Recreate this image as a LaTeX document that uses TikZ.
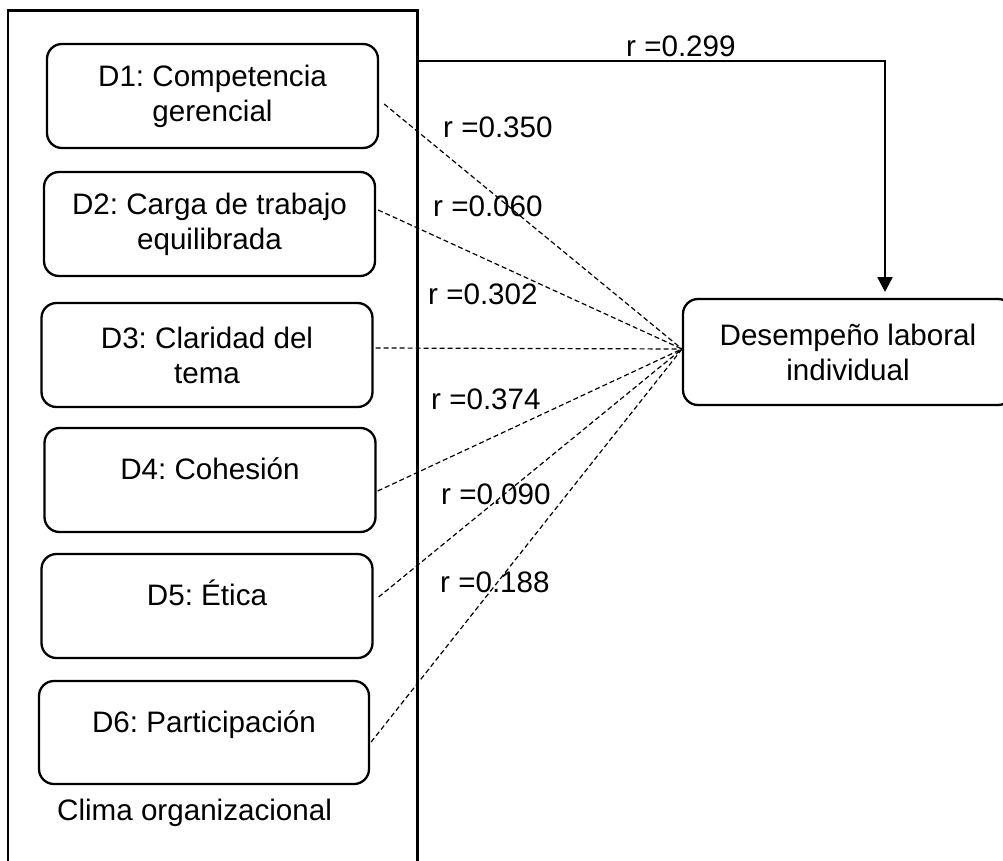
\documentclass[tikz,border=0pt]{standalone}
\usepackage{fontspec}
\setmainfont{Liberation Sans}
\usetikzlibrary{arrows.meta,calc}
\frenchspacing
\begin{document}
\begin{tikzpicture}[x=1pt,y=-1pt,
  dimbox/.style={draw,line width=2.3pt,rounded corners=15pt,minimum width=331pt,minimum height=104pt,inner sep=0pt,align=center,font=\fontsize{29.6}{35}\selectfont\frenchspacing},
  lbl/.style={inner sep=0pt,font=\fontsize{29.6}{35}\selectfont\frenchspacing},
  corr/.style={line width=1.2pt,dash pattern=on 5pt off 3pt},
  frameline/.style={line width=2.5pt}]
\useasboundingbox (0,0) rectangle (1003,861);
\clip (0,0) rectangle (1003,861);
\fill[white] (0,0) rectangle (1003,861);
% outer frame
\draw[frameline] (8,875) -- (8,10.5) -- (417.5,10.5) -- (417.5,875);
% dimension boxes
\node[dimbox] (D1) at (212.5,96) {D1: Competencia\\gerencial};
\node[dimbox] (D2) at (209.5,224) {D2: Carga de trabajo\\equilibrada};
\node[dimbox] (D3) at (207,355) {D3: Claridad del\\tema};
\node[dimbox] (D4) at (210,480) {};
\node[dimbox] (D5) at (207,606) {};
\node[dimbox,minimum width=330pt,minimum height=103pt] (D6) at (204,732.5) {};
\node[lbl,anchor=base] (t4) at (210,479) {D4: Cohesión};
\node[lbl,anchor=base] (t5) at (207,605) {D5: Ética};
\node[lbl,anchor=base] (t6) at (204,732) {D6: Participación};
\node[lbl,anchor=base west] (clima) at (57,820) {Clima organizacional};
% dependent variable
\node[dimbox,minimum width=330pt,minimum height=106pt] (des) at (848,352) {Desempeño laboral\\individual};
% correlations
\coordinate (conv) at (682,349);
\draw[corr] ($(D1.east)+(5,8)$) -- (conv);
\draw[corr] ($(D2.east)+(2,-14)$) -- (conv);
\draw[corr] ($(D3.east)+(2,-7)$) -- (conv);
\draw[corr] ($(D4.east)+(1,11)$) -- (conv);
\draw[corr] ($(D5.east)+(5,-9)$) -- (conv);
\draw[corr] ($(D6.east)+(1,9.5)$) -- (conv);
% global arrow
\coordinate (fr) at (418,61);
\coordinate (aend) at (885,292);
\draw[frameline,-{Triangle[length=15pt,width=15pt]}] (fr) -- (fr -| aend) -- (aend);
% labels
\node[lbl,anchor=base west] (r0) at (626,57) {r =0.299};
\node[lbl,anchor=base west] (r1) at (443,138) {r =0.350};
\node[lbl,anchor=base west] (r2) at (433,216) {r =0.060};
\node[lbl,anchor=base west] (r3) at (428,304) {r =0.302};
\node[lbl,anchor=base west] (r4) at (431,409) {r =0.374};
\node[lbl,anchor=base west] (r5) at (441,504) {r =0.090};
\node[lbl,anchor=base west] (r6) at (440,592) {r =0.188};
\end{tikzpicture}
\end{document}
